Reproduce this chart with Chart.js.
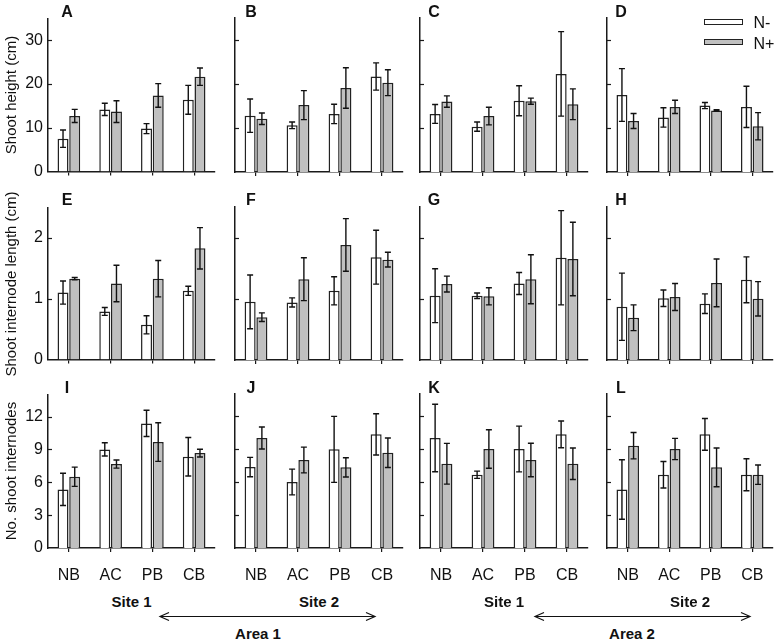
<!DOCTYPE html>
<html><head><meta charset="utf-8">
<script src="https://cdn.jsdelivr.net/npm/chart.js@4/dist/chart.umd.min.js"></script>
<style>
html,body{margin:0;padding:0;background:#fff}
body{width:780px;height:641px;position:relative;overflow:hidden;font-family:"Liberation Sans",Arial,sans-serif}
canvas{position:absolute}
.t{position:absolute;color:#111;white-space:nowrap;line-height:1;transform:translate(-50%,-50%)}
.r{transform:translate(-50%,-50%) rotate(-90deg)}
.b{font-weight:bold}
.lb{position:absolute;width:37px;height:4px;border:1.5px solid #222}
</style></head><body>
<script>
// ---------- DATA ----------
const categories = ['NB', 'AC', 'PB', 'CB'];
const seriesNames = ['N-', 'N+'];
const rowTitles = ['Shoot height (cm)', 'Shoot internode length (cm)', 'No. shoot internodes'];
const rowMax = [35, 2.5, 14];
const rowStep = [10, 1, 3];

// Shoot height (cm): means and error bars
const A_minus = [7.5, 14.2, 9.8, 16.4],  A_minusErr = [2.0, 1.4, 1.15, 3.3];
const A_plus  = [12.7, 13.7, 17.4, 21.7], A_plusErr  = [1.5, 2.5, 2.7, 2.0];
const B_minus = [12.8, 10.6, 13.2, 21.7], B_minusErr = [3.8, 0.75, 2.2, 3.1];
const B_plus  = [12.1, 15.2, 19.1, 20.3], B_plusErr  = [1.3, 3.3, 4.6, 2.95];
const C_minus = [13.2, 10.3, 16.2, 22.3], C_minusErr = [2.15, 1.05, 3.4, 9.6];
const C_plus  = [16.0, 12.7, 16.1, 15.4], C_plusErr  = [1.3, 2.0, 0.7, 3.5];
const D_minus = [17.5, 12.4, 15.1, 14.8], D_minusErr = [6.0, 2.2, 0.7, 4.7];
const D_plus  = [11.6, 14.8, 14.0, 10.4], D_plusErr  = [1.7, 1.5, 0.15, 3.1];

// Shoot internode length (cm)
const E_minus = [1.10, 0.79, 0.57, 1.13], E_minusErr = [0.19, 0.065, 0.15, 0.075];
const E_plus  = [1.33, 1.25, 1.33, 1.83], E_plusErr  = [0.02, 0.30, 0.30, 0.34];
const F_minus = [0.95, 0.94, 1.13, 1.68], F_minusErr = [0.44, 0.075, 0.23, 0.44];
const F_plus  = [0.70, 1.32, 1.88, 1.64], F_plusErr  = [0.07, 0.35, 0.43, 0.12];
const G_minus = [1.05, 1.05, 1.25, 1.67], G_minusErr = [0.44, 0.045, 0.18, 0.77];
const G_plus  = [1.24, 1.04, 1.32, 1.65], G_plusErr  = [0.13, 0.14, 0.40, 0.60];
const H_minus = [0.87, 1.01, 0.92, 1.31], H_minusErr = [0.55, 0.135, 0.16, 0.375];
const H_plus  = [0.69, 1.03, 1.26, 1.00], H_plusErr  = [0.21, 0.22, 0.39, 0.28];

// No. shoot internodes
const I_minus = [5.35, 9.0, 11.37, 8.33], I_minusErr = [1.47, 0.6, 1.2, 1.76];
const I_plus  = [6.5, 7.66, 9.67, 8.66],  I_plusErr  = [0.88, 0.37, 1.76, 0.35];
const J_minus = [7.36, 6.0, 8.97, 10.33], J_minusErr = [0.88, 1.17, 3.0, 1.87];
const J_plus  = [10.0, 8.0, 7.33, 8.66],  J_plusErr  = [1.0, 1.17, 0.88, 1.34];
const K_minus = [10.0, 6.66, 9.0, 10.33], K_minusErr = [3.07, 0.33, 2.08, 1.22];
const K_plus  = [7.66, 9.0, 8.0, 7.66],   K_plusErr  = [1.85, 1.75, 1.52, 1.43];
const L_minus = [5.32, 6.66, 10.33, 6.66], L_minusErr = [2.7, 1.2, 1.44, 1.45];
const L_plus  = [9.3, 9.0, 7.33, 6.66],   L_plusErr  = [1.2, 0.97, 1.76, 0.88];

const panels = [
  ['A', A_minus, A_minusErr, A_plus, A_plusErr], ['B', B_minus, B_minusErr, B_plus, B_plusErr],
  ['C', C_minus, C_minusErr, C_plus, C_plusErr], ['D', D_minus, D_minusErr, D_plus, D_plusErr],
  ['E', E_minus, E_minusErr, E_plus, E_plusErr], ['F', F_minus, F_minusErr, F_plus, F_plusErr],
  ['G', G_minus, G_minusErr, G_plus, G_plusErr], ['H', H_minus, H_minusErr, H_plus, H_plusErr],
  ['I', I_minus, I_minusErr, I_plus, I_plusErr], ['J', J_minus, J_minusErr, J_plus, J_plusErr],
  ['K', K_minus, K_minusErr, K_plus, K_plusErr], ['L', L_minus, L_minusErr, L_plus, L_plusErr]
];

// ---------- LAYOUT ----------
const plotLeft = [48, 235, 420, 607], plotRight = [215, 403, 588, 773];
const plotTop = [18, 207, 394], plotBottom = [172, 360, 548];
const letterX = [67, 251, 434, 621], letterY = [12, 200, 388];
const TOP_PAD = 14, RIGHT_PAD = 6;
const xH = [14, 14, 44];
const yW = c => (c === 0 ? 48 : 12);
const FONT = '"Liberation Sans", Arial, sans-serif';
const INK = '#1a1a1a';

const errorBars = {
  id: 'errorBars',
  afterDatasetsDraw(chart) {
    const ctx = chart.ctx, ys = chart.scales.y;
    ctx.save();
    ctx.strokeStyle = '#111';
    ctx.lineWidth = 1.4;
    chart.data.datasets.forEach((ds, i) => {
      chart.getDatasetMeta(i).data.forEach((el, j) => {
        const v = ds.data[j], e = ds.errors[j];
        const x = el.x;
        const y1 = ys.getPixelForValue(v + e), y2 = ys.getPixelForValue(v - e);
        ctx.beginPath();
        ctx.moveTo(x, y1); ctx.lineTo(x, y2);
        ctx.moveTo(x - 3, y1); ctx.lineTo(x + 3, y1);
        ctx.moveTo(x - 3, y2); ctx.lineTo(x + 3, y2);
        ctx.stroke();
      });
    });
    ctx.restore();
  }
};
const innerTicks = {
  id: 'innerTicks',
  afterDraw(chart) {
    const ys = chart.scales.y, ctx = chart.ctx, x = chart.chartArea.left;
    ctx.save();
    ctx.strokeStyle = INK;
    ctx.lineWidth = 1.2;
    ys.ticks.forEach(t => {
      if (t.value === ys.min) return;
      const y = Math.round(ys.getPixelForValue(t.value)) + 0.5;
      ctx.beginPath(); ctx.moveTo(x, y); ctx.lineTo(x + 4, y); ctx.stroke();
    });
    ctx.restore();
  }
};

function addText(txt, x, y, size, bold, rotated) {
  const d = document.createElement('div');
  d.className = 't' + (bold ? ' b' : '') + (rotated ? ' r' : '');
  d.style.left = x + 'px'; d.style.top = y + 'px'; d.style.fontSize = size + 'px';
  d.textContent = txt;
  document.body.appendChild(d);
}

panels.forEach((p, idx) => {
  const r = Math.floor(idx / 4), c = idx % 4;
  const [letter, mData, mErr, pData, pErr] = p;
  const cv = document.createElement('canvas');
  const w = plotRight[c] - plotLeft[c] + yW(c) + RIGHT_PAD;
  const h = plotBottom[r] - plotTop[r] + TOP_PAD + xH[r];
  cv.width = w; cv.height = h;
  cv.style.left = (plotLeft[c] - yW(c)) + 'px';
  cv.style.top = (plotTop[r] - TOP_PAD) + 'px';
  cv.style.width = w + 'px'; cv.style.height = h + 'px';
  document.body.appendChild(cv);
  const step = rowStep[r];
  new Chart(cv, {
    type: 'bar',
    data: {
      labels: categories,
      datasets: [
        { label: seriesNames[0], data: mData, errors: mErr, backgroundColor: '#ffffff', borderColor: '#222', borderWidth: 1.5, categoryPercentage: 0.56, barPercentage: 0.94 },
        { label: seriesNames[1], data: pData, errors: pErr, backgroundColor: '#c0c0c0', borderColor: '#222', borderWidth: 1.5, categoryPercentage: 0.56, barPercentage: 0.94 }
      ]
    },
    options: {
      responsive: false, animation: false, devicePixelRatio: 1,
      layout: { padding: { top: TOP_PAD, right: RIGHT_PAD, left: 0, bottom: 0 } },
      plugins: { legend: { display: false }, tooltip: { enabled: false } },
      scales: {
        x: {
          offset: true,
          grid: { display: true, drawOnChartArea: false, drawTicks: true, tickLength: 4, offset: false, color: INK, lineWidth: 1.2 },
          border: { display: true, color: INK, width: 1.5 },
          ticks: { display: r === 2, color: '#111', font: { size: 16, family: FONT }, padding: 14, maxRotation: 0, autoSkip: false },
          afterFit(s) { s.height = xH[r]; }
        },
        y: {
          min: 0, max: rowMax[r],
          ticks: { stepSize: step, display: c === 0, color: '#111', font: { size: 16, family: FONT }, padding: 5 },
          afterBuildTicks(s) { s.ticks = s.ticks.filter(t => Math.abs(t.value / step - Math.round(t.value / step)) < 1e-9); },
          grid: { display: false, drawTicks: false },
          border: { display: true, color: INK, width: 1.5 },
          afterFit(s) { s.width = yW(c); }
        }
      }
    },
    plugins: [errorBars, innerTicks]
  });
  addText(letter, letterX[c], letterY[r], 16, true);
});

// Y-axis titles
rowTitles.forEach((t, r) => addText(t, 10, (plotTop[r] + plotBottom[r]) / 2, 15, false, true));

// Site / Area labels
const siteLabels = ['Site 1', 'Site 2', 'Site 1', 'Site 2'];
siteLabels.forEach((s, c) => addText(s, (plotLeft[c] + plotRight[c]) / 2, 601, 15, true));
addText('Area 1', 258, 633, 15, true);
addText('Area 2', 632, 633, 15, true);

// Legend (in panel D)
const lg = document.createElement('div');
lg.innerHTML =
  '<div class="lb" style="left:704px;top:19px;background:#fff"></div>' +
  '<div class="lb" style="left:704px;top:39px;background:#c0c0c0"></div>';
document.body.appendChild(lg);
addText(seriesNames[0], 762, 23, 16, false);
addText(seriesNames[1], 764, 44, 16, false);

// Arrows
const svgNS = 'http://www.w3.org/2000/svg';
const svg = document.createElementNS(svgNS, 'svg');
svg.setAttribute('width', '780'); svg.setAttribute('height', '641');
svg.style.position = 'absolute'; svg.style.left = '0'; svg.style.top = '0';
function arrow(x1, x2, y) {
  const path = document.createElementNS(svgNS, 'path');
  path.setAttribute('d', `M${x1},${y} L${x2},${y} M${x1 + 9},${y - 4} L${x1},${y} L${x1 + 9},${y + 4} M${x2 - 9},${y - 4} L${x2},${y} L${x2 - 9},${y + 4}`);
  path.setAttribute('stroke', '#111'); path.setAttribute('stroke-width', '1.2'); path.setAttribute('fill', 'none');
  svg.appendChild(path);
}
arrow(160, 375, 616.5);
arrow(535, 750, 616.5);
document.body.appendChild(svg);
</script>
</body></html>
